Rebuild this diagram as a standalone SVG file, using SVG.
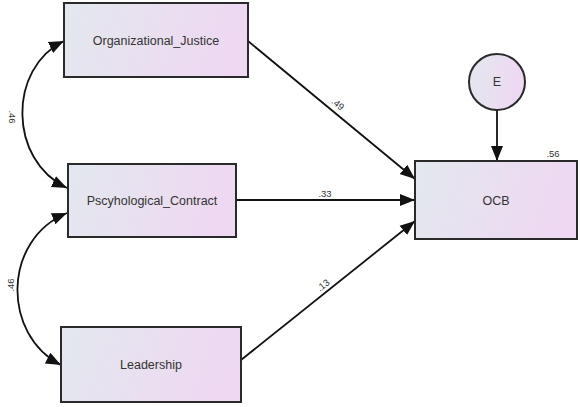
<svg xmlns="http://www.w3.org/2000/svg" width="581" height="407" viewBox="0 0 581 407">
<defs>
<linearGradient id="g" x1="0" y1="0" x2="1" y2="0.15">
<stop offset="0" stop-color="#e3e8ee"/>
<stop offset="1" stop-color="#eed8f2"/>
</linearGradient>
<marker id="ah" viewBox="0 0 10 10" refX="10" refY="5" markerWidth="15" markerHeight="15" markerUnits="userSpaceOnUse" orient="auto-start-reverse">
<path d="M0,1 L10,5 L0,9 Z" fill="#111"/>
</marker>
<style>
.box{fill:url(#g);stroke:#2a2a2a;stroke-width:2}
.lbl{font-family:"Liberation Sans",Arial,sans-serif;font-size:12.5px;fill:#333;text-anchor:middle;dominant-baseline:central}
.num{font-family:"Liberation Sans",Arial,sans-serif;font-size:9.5px;fill:#333;text-anchor:middle;dominant-baseline:central}
.c{fill:none;stroke:#111;stroke-width:1.8}
</style>
</defs>
<rect width="581" height="407" fill="#fff"/>
<g id="connectors">
<path class="c" d="M248,41 L415,179" marker-end="url(#ah)"/>
<path class="c" d="M236,200 L415,200" marker-end="url(#ah)"/>
<path class="c" d="M241,360 L415,221" marker-end="url(#ah)"/>
<path class="c" d="M497,110 L497,161" marker-end="url(#ah)"/>
<path class="c" d="M64,41 C8,68 8,160 67,188" marker-start="url(#ah)" marker-end="url(#ah)"/>
<path class="c" d="M67,213 C2,240 2,335 61,365" marker-start="url(#ah)" marker-end="url(#ah)"/>
<text class="num" transform="translate(338,104) rotate(39.6)">.49</text>
<text class="num" transform="translate(325,193)">.33</text>
<text class="num" transform="translate(323,285) rotate(-38.6)">.13</text>
<text class="num" transform="translate(12,117) rotate(90)">.46</text>
<text class="num" transform="translate(10,285) rotate(-90)">.46</text>
<text class="num" transform="translate(553,153)">.56</text>
</g>
<g id="organizational_justice">
<rect class="box" x="64" y="3" width="184" height="74"/>
<text class="lbl" x="156" y="41">Organizational_Justice</text>
</g>
<g id="psychological_contract">
<rect class="box" x="68" y="164" width="168" height="73"/>
<text class="lbl" x="152" y="201">Pscyhological_Contract</text>
</g>
<g id="leadership">
<rect class="box" x="61" y="327" width="180" height="75"/>
<text class="lbl" x="151" y="365">Leadership</text>
</g>
<g id="ocb">
<rect class="box" x="415" y="161" width="162" height="78"/>
<text class="lbl" x="496" y="201">OCB</text>
</g>
<g id="e">
<circle class="box" cx="497" cy="82" r="28"/>
<text class="lbl" x="497" y="82">E</text>
</g>
</svg>
